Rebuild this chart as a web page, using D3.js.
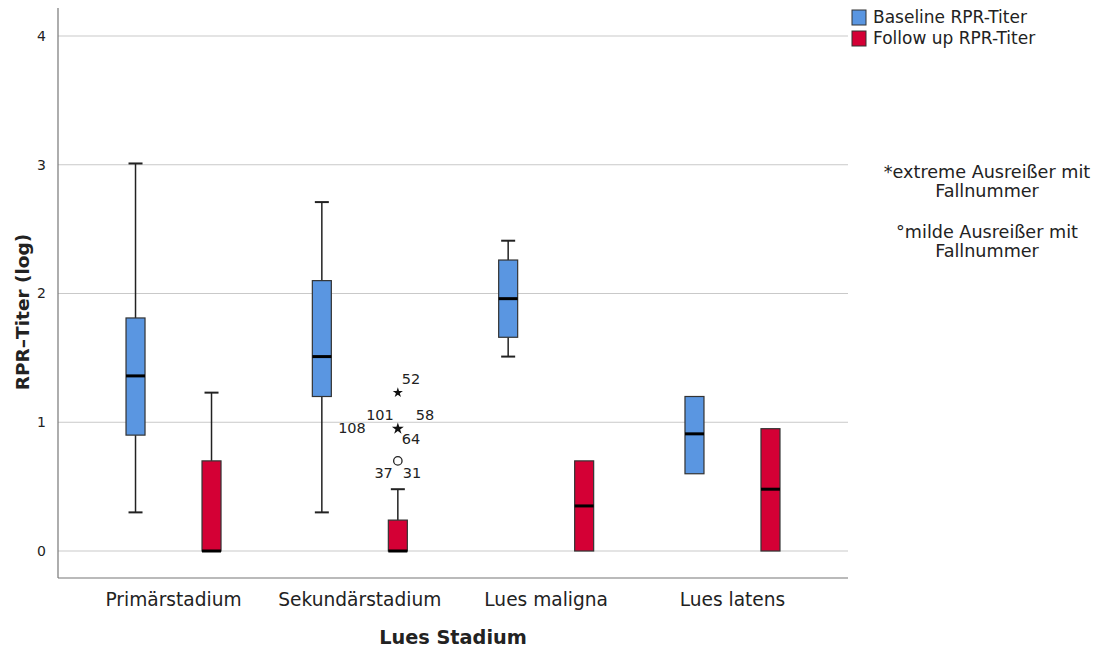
<!DOCTYPE html>
<html><head><meta charset="utf-8">
<script src="https://cdn.jsdelivr.net/npm/d3@7"></script>
<style>body{margin:0;background:#fff;} svg{display:block;font-family:"DejaVu Sans",sans-serif;} svg text{font-family:"DejaVu Sans",sans-serif;}</style>
</head><body>
<svg id="c" width="1110" height="650"></svg>
<script>
const categories = ["Primärstadium","Sekundärstadium","Lues maligna","Lues latens"];
const seriesNames = ["Baseline RPR-Titer","Follow up RPR-Titer"];
const yTicks = [0,1,2,3,4];
// [whiskerLow, Q1, median, Q3, whiskerHigh]
const baseline = [
  [0.30,0.90,1.36,1.81,3.01],
  [0.30,1.20,1.51,2.10,2.71],
  [1.51,1.66,1.96,2.26,2.41],
  [0.60,0.60,0.91,1.20,1.20]
];
const followUp = [
  [0,0,0,0.70,1.23],
  [0,0,0,0.24,0.48],
  [0,0,0.35,0.70,0.70],
  [0,0,0.48,0.95,0.95]
];
// outliers: category index, series index, value, type, case labels
const outliers = [
  {cat:1, ser:1, value:0.70, type:"mild", labels:["37","31"]},
  {cat:1, ser:1, value:0.95, type:"extreme", labels:["101","58","108","64"]},
  {cat:1, ser:1, value:1.23, type:"extreme", labels:["52"]}
];
const noteLines = [["*extreme Ausreißer mit","Fallnummer"],["°milde Ausreißer mit","Fallnummer"]];
const colors = ["#5a96e1","#d40035"];

const svg = d3.select("#c");
const L=58, R=848, T=8, B=578;
const y = d3.scaleLinear().domain([0,4]).range([551,36]);
const x = d3.scaleBand().domain(categories).range([L,R]).paddingOuter(0.12).paddingInner(0);
const sx = d3.scaleOrdinal().domain([0,1]).range([-38,38]);
const bw = 19, cap = 14;

// grid
svg.append("g").selectAll("line").data(yTicks).join("line")
  .attr("x1",L).attr("x2",R).attr("y1",d=>y(d)).attr("y2",d=>y(d))
  .attr("stroke","#c9c9c9").attr("stroke-width",1.2);

// axes
const yAxis = svg.append("g").attr("transform",`translate(${L},0)`)
  .call(d3.axisLeft(y).tickValues(yTicks).tickFormat(d3.format("d")).tickSize(0).tickPadding(12));
yAxis.select(".domain").remove();
yAxis.selectAll("text").style("font-size","14px").style("fill","#222");
svg.append("line").attr("x1",L).attr("x2",L).attr("y1",T).attr("y2",B).attr("stroke","#777").attr("stroke-width",1.2);
const xAxis = svg.append("g").attr("transform",`translate(0,${B})`)
  .call(d3.axisBottom(x).tickSize(0).tickPadding(15));
xAxis.select(".domain").remove();
xAxis.selectAll("text").style("font-size","18.6px").style("fill","#222");
svg.append("line").attr("x1",L).attr("x2",R).attr("y1",B).attr("y2",B).attr("stroke","#777").attr("stroke-width",1.2);

// titles
svg.append("text").attr("transform","translate(29,312) rotate(-90)").attr("text-anchor","middle")
  .style("font-size","18.5px").attr("font-weight","bold").attr("fill","#222").text("RPR–Titer (log)");
svg.append("text").attr("x",453).attr("y",644).attr("text-anchor","middle")
  .style("font-size","19.3px").attr("font-weight","bold").attr("fill","#222").text("Lues Stadium");

// boxes
function drawBoxes(data, s){
  const g = svg.append("g");
  data.forEach((d,i)=>{
    const cx = x(categories[i]) + x.bandwidth()/2 + sx(s);
    const [lo,q1,med,q3,hi] = d;
    const bg = g.append("g");
    if (hi>q3){
      bg.append("line").attr("x1",cx).attr("x2",cx).attr("y1",y(q3)).attr("y2",y(hi)).attr("stroke","#222").attr("stroke-width",1.5);
      bg.append("line").attr("x1",cx-cap/2).attr("x2",cx+cap/2).attr("y1",y(hi)).attr("y2",y(hi)).attr("stroke","#222").attr("stroke-width",2);
    }
    if (lo<q1){
      bg.append("line").attr("x1",cx).attr("x2",cx).attr("y1",y(q1)).attr("y2",y(lo)).attr("stroke","#222").attr("stroke-width",1.5);
      bg.append("line").attr("x1",cx-cap/2).attr("x2",cx+cap/2).attr("y1",y(lo)).attr("y2",y(lo)).attr("stroke","#222").attr("stroke-width",2);
    }
    bg.append("rect").attr("x",cx-bw/2).attr("width",bw).attr("y",y(q3)).attr("height",y(q1)-y(q3))
      .attr("fill",colors[s]).attr("stroke","#333").attr("stroke-width",1.2);
    bg.append("line").attr("x1",cx-bw/2).attr("x2",cx+bw/2).attr("y1",y(med)).attr("y2",y(med)).attr("stroke","#000").attr("stroke-width",3);
  });
}
drawBoxes(baseline,0);
drawBoxes(followUp,1);

// outliers
const labelOffsets = {
  "52":[4,-9,"start"], "101":[-4,-9,"end"], "58":[18,-9,"start"], "108":[-32,4,"end"],
  "64":[4,15,"start"], "37":[-5,17,"end"], "31":[5,17,"start"]
};
outliers.forEach(o=>{
  const cx = x(categories[o.cat]) + x.bandwidth()/2 + sx(o.ser);
  const cy = y(o.value);
  if (o.type==="mild"){
    svg.append("circle").attr("cx",cx).attr("cy",cy).attr("r",4.2).attr("fill","none").attr("stroke","#222").attr("stroke-width",1.3);
  } else {
    svg.append("path").attr("d",d3.symbol(d3.symbolStar, o.labels.length>1?44:32)())
      .attr("transform",`translate(${cx},${cy})`).attr("fill","#111");
  }
  o.labels.forEach(l=>{
    const off = labelOffsets[l];
    svg.append("text").attr("x",cx+off[0]).attr("y",cy+off[1]).attr("text-anchor",off[2])
      .style("font-size","14.5px").attr("fill","#222").text(l);
  });
});

// legend
const lg = svg.append("g").attr("transform","translate(852,10)");
seriesNames.forEach((n,i)=>{
  lg.append("rect").attr("x",0).attr("y",i*21).attr("width",14).attr("height",15)
    .attr("fill",colors[i]).attr("stroke","#333").attr("stroke-width",1);
  lg.append("text").attr("x",21).attr("y",i*21+13).style("font-size","17px").attr("fill","#222").text(n);
});

// notes
noteLines.forEach((g,gi)=>{
  g.forEach((t,li)=>{
    svg.append("text").attr("x",987).attr("y",178+gi*60+li*19).attr("text-anchor","middle")
      .style("font-size","17.6px").attr("fill","#222").text(t);
  });
});
</script>
</body></html>
